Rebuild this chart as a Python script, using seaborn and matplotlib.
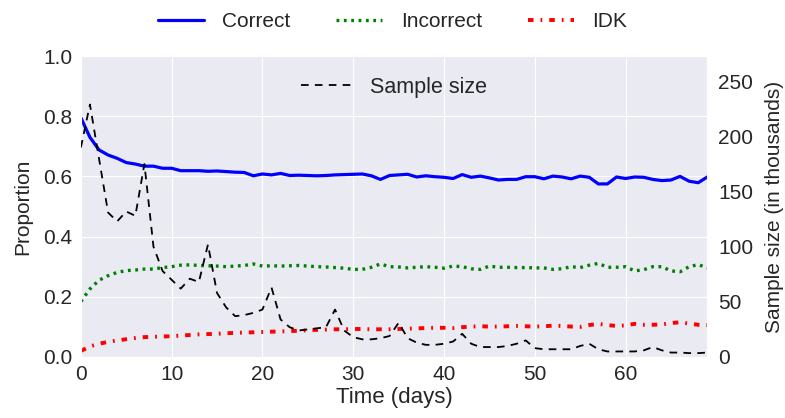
import numpy as np
import pandas as pd
import matplotlib
matplotlib.use("Agg")
import matplotlib.pyplot as plt
import seaborn as sns

# values, one per day
days = list(range(70))
correct = [0.795, 0.730, 0.688, 0.671, 0.660, 0.646, 0.641, 0.634, 0.634, 0.627,
           0.627, 0.619, 0.619, 0.619, 0.617, 0.618, 0.616, 0.614, 0.613, 0.602,
           0.608, 0.605, 0.610, 0.603, 0.604, 0.603, 0.602, 0.603, 0.605, 0.606,
           0.607, 0.608, 0.602, 0.590, 0.603, 0.605, 0.607, 0.598, 0.602, 0.599,
           0.597, 0.593, 0.606, 0.597, 0.601, 0.595, 0.588, 0.590, 0.590, 0.599,
           0.599, 0.592, 0.601, 0.598, 0.592, 0.601, 0.597, 0.575, 0.575, 0.598,
           0.593, 0.598, 0.597, 0.590, 0.586, 0.588, 0.600, 0.584, 0.579, 0.598]
incorrect = [0.184, 0.226, 0.255, 0.270, 0.281, 0.287, 0.289, 0.292, 0.292, 0.297,
             0.300, 0.305, 0.306, 0.304, 0.303, 0.302, 0.300, 0.302, 0.304, 0.309,
             0.302, 0.303, 0.302, 0.303, 0.304, 0.302, 0.300, 0.299, 0.297, 0.295,
             0.291, 0.291, 0.298, 0.309, 0.300, 0.299, 0.296, 0.298, 0.300, 0.298,
             0.295, 0.302, 0.300, 0.293, 0.291, 0.302, 0.298, 0.298, 0.297, 0.297,
             0.296, 0.296, 0.291, 0.293, 0.300, 0.297, 0.305, 0.311, 0.298, 0.298,
             0.300, 0.286, 0.290, 0.300, 0.300, 0.286, 0.283, 0.300, 0.307, 0.296]
idk = [0.020, 0.035, 0.044, 0.050, 0.055, 0.059, 0.063, 0.066, 0.067, 0.068,
       0.069, 0.071, 0.073, 0.075, 0.076, 0.077, 0.079, 0.080, 0.081, 0.082,
       0.083, 0.084, 0.085, 0.086, 0.087, 0.089, 0.090, 0.091, 0.092, 0.092,
       0.093, 0.093, 0.092, 0.092, 0.092, 0.093, 0.094, 0.095, 0.096, 0.097,
       0.097, 0.096, 0.099, 0.101, 0.102, 0.101, 0.101, 0.102, 0.103, 0.102,
       0.101, 0.102, 0.104, 0.103, 0.101, 0.100, 0.106, 0.110, 0.106, 0.103,
       0.105, 0.110, 0.107, 0.107, 0.108, 0.113, 0.115, 0.111, 0.107, 0.106]
sample_k = [190, 229, 180, 131, 123, 132, 128, 175, 100, 78,
            70, 62, 71, 68, 102, 58, 45, 37, 38, 40,
            43, 63, 34, 27, 24, 25, 26, 27, 43, 24,
            18, 16, 16, 17, 19, 31, 17, 13, 11, 11,
            12, 14, 21, 12, 9, 9, 9, 10, 12, 15,
            8, 7, 7, 7, 7, 10, 12, 7, 5, 5,
            5, 5, 6, 9, 6, 4, 4, 3.5, 3.5, 4]

df = pd.DataFrame({"day": days, "Correct": correct, "Incorrect": incorrect,
                   "IDK": idk, "sample": sample_k})

sns.set_style("darkgrid", {"grid.linewidth": 1.5})
plt.rcParams['font.family'] = ['Liberation Sans', 'DejaVu Sans']
plt.rcParams['lines.scale_dashes'] = False  # old-style fixed dash lengths

fig = plt.figure(figsize=(7.85, 4.18), dpi=100)
ax = fig.add_axes([0.103, 0.146, 0.798, 0.720])

sns.lineplot(data=df, x="day", y="Correct", ax=ax, color=(0, 0, 1), lw=2.3,
             label="Correct", legend=False)
sns.lineplot(data=df, x="day", y="Incorrect", ax=ax, color=(0, 0.5, 0), lw=2.4,
             dashes=(2.0, 3.3), label="Incorrect", legend=False)
sns.lineplot(data=df, x="day", y="IDK", ax=ax, color=(1, 0, 0), lw=2.8,
             dashes=(4.0, 5.0, 1.3, 5.0), label="IDK", legend=False)

ax.set_xlim(0, 69)
ax.set_ylim(0, 1.0)
ax.set_xticks([0, 10, 20, 30, 40, 50, 60])
ax.set_yticks([0.0, 0.2, 0.4, 0.6, 0.8, 1.0])
ax.set_xlabel("Time (days)", fontsize=16, labelpad=2)
ax.set_ylabel("Proportion", fontsize=15, labelpad=8)
ax.tick_params(axis="both", length=0, pad=6, labelsize=15)

ax2 = ax.twinx()
sns.lineplot(data=df, x="day", y="sample", ax=ax2, color="k", lw=1.3,
             dashes=(5.5, 4.5), label="Sample size", legend=False)
ax2.set_ylim(0, 273)
ax2.set_yticks([0, 50, 100, 150, 200, 250])
ax2.grid(False)
ax2.set_ylabel("Sample size (in thousands)", fontsize=15, labelpad=8)
ax2.tick_params(axis="y", length=0, pad=8, labelsize=15)
for s in ax2.spines.values():
    s.set_visible(False)

ax2.legend(loc="upper center", frameon=False, fontsize=15.5, handlelength=2.3,
           handletextpad=0.9, bbox_to_anchor=(0.5, 0.995))

h, l = ax.get_legend_handles_labels()
fig.legend(h, l, loc="upper center", ncol=3, frameon=False,
           bbox_to_anchor=(0.5, 1.015), handlelength=2.2, handletextpad=0.9,
           columnspacing=2.2, fontsize=15)

fig.savefig("out.png", dpi=100)
